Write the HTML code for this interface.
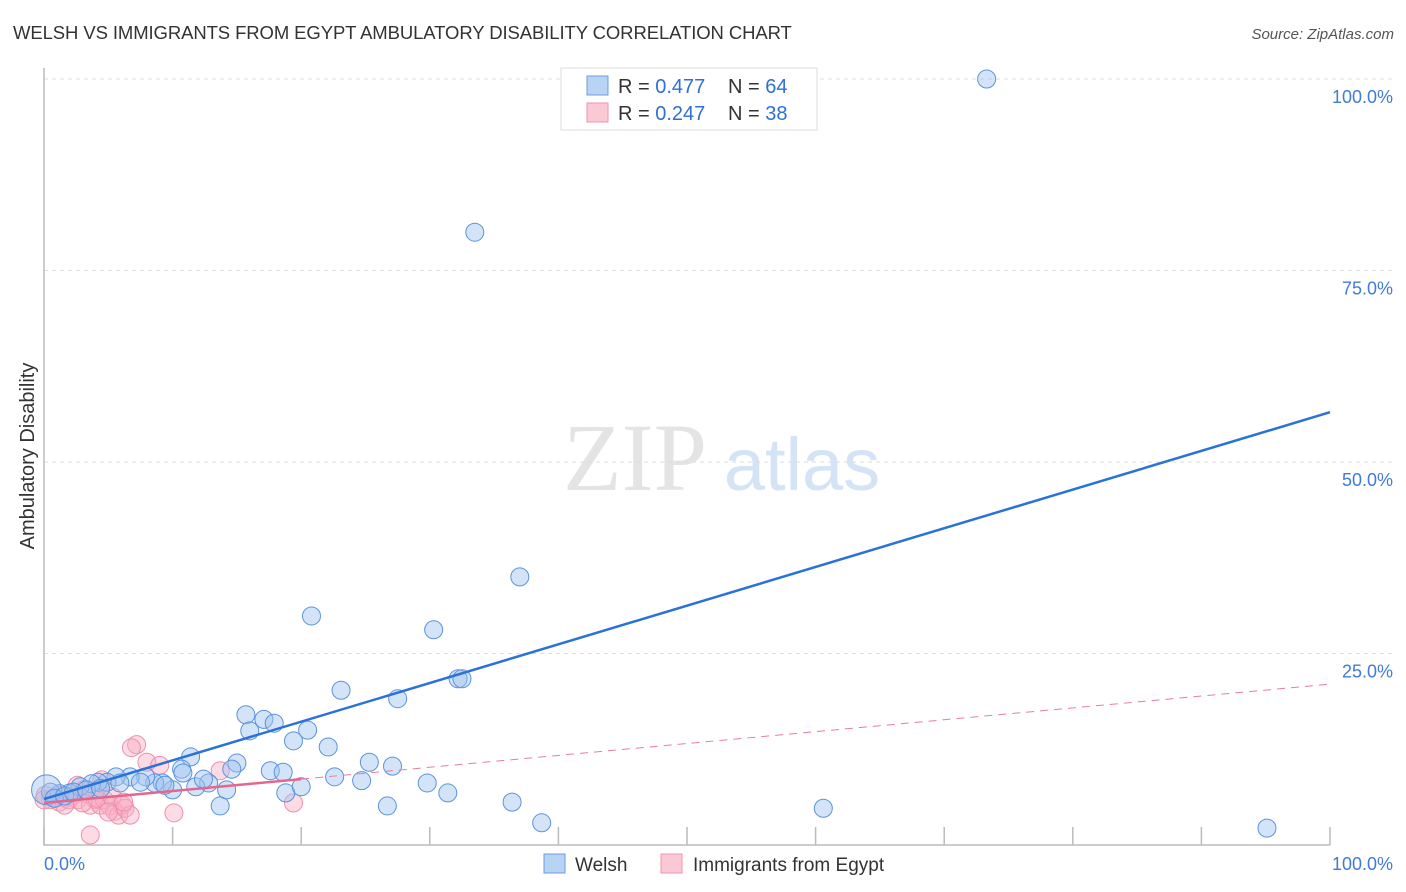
<!DOCTYPE html>
<html><head><meta charset="utf-8"><style>
body{margin:0;background:#fff;font-family:"Liberation Sans",sans-serif;}
svg{display:block}
</style></head><body>
<svg id="chart" width="1406" height="892" xmlns="http://www.w3.org/2000/svg">
<text x="13" y="39" font-size="18.5" fill="#333" letter-spacing="-0.1">WELSH VS IMMIGRANTS FROM EGYPT AMBULATORY DISABILITY CORRELATION CHART</text>
<text x="1394" y="39" font-size="15" fill="#555" font-style="italic" text-anchor="end">Source: ZipAtlas.com</text>
<text x="34" y="456" font-size="20" fill="#333" transform="rotate(-90 34 456)" text-anchor="middle">Ambulatory Disability</text>
<g>
<text x="635" y="490" font-size="96" fill="#e4e4e4" font-family="Liberation Serif,serif" text-anchor="middle">ZIP</text>
<text x="802" y="490" font-size="74" fill="#d4e3f6" text-anchor="middle">atlas</text>
</g>
<g id="grid"></g><g id="axes"></g><g id="trends"></g><g id="points"></g>
<g>
<rect x="561" y="68" width="256" height="62" fill="#fff" stroke="#ddd"/>
<rect x="587" y="76" width="21" height="19" fill="#b9d3f5" stroke="#6c9de0"/>
<rect x="587" y="103" width="21" height="19" fill="#fbc8d6" stroke="#ef93ae"/>
<text x="618" y="93" font-size="20" fill="#333">R = <tspan fill="#2f6fd6">0.477</tspan></text>
<text x="728" y="93" font-size="20" fill="#333">N = <tspan fill="#2f6fd6">64</tspan></text>
<text x="618" y="120" font-size="20" fill="#333">R = <tspan fill="#2f6fd6">0.247</tspan></text>
<text x="728" y="120" font-size="20" fill="#333">N = <tspan fill="#2f6fd6">38</tspan></text>
</g>
<g>
<rect x="544" y="854" width="21" height="19" fill="#b9d3f5" stroke="#6c9de0"/>
<text x="575" y="871" font-size="19" fill="#333">Welsh</text>
<rect x="661" y="854" width="21" height="19" fill="#fbc8d6" stroke="#ef93ae"/>
<text x="693" y="871" font-size="19" fill="#333">Immigrants from Egypt</text>
</g>
</svg>
<script>
const NS="http://www.w3.org/2000/svg";
const yTicks=[25,50,75,100];
const yTickLabels=["25.0%","50.0%","75.0%","100.0%"];
const xTickVals=[0,10,20,30,40,50,60,70,80,90,100];
const welshX=[73.3,54.2,33.5,37.0,20.8,30.3,23.1,32.2,32.5,27.5,15.7,17.1,17.9,16.0,20.5,19.4,22.1,11.4,15.0,10.7,14.6,25.3,27.1,17.6,18.6,22.6,24.7,29.8,31.4,36.4,38.7,60.6,95.1,26.7,13.7,18.8,20.0,12.8,14.2,11.8,10.8,10.0,9.2,8.6,7.9,6.7,5.6,4.9,4.2,3.7,2.8,2.0,1.2,0.5,0.2,0.8,1.6,2.3,3.3,5.9,7.5,12.4,9.4,4.4];
const welshY=[100,100,80.0,35.0,29.9,28.1,20.2,21.7,21.7,19.1,17.0,16.4,15.9,14.9,15.0,13.6,12.8,11.5,10.7,9.9,9.9,10.8,10.3,9.7,9.5,8.9,8.4,8.1,6.8,5.6,2.9,4.8,2.2,5.1,5.1,6.8,7.6,8.1,7.2,7.6,9.4,7.2,8.1,8.1,8.9,8.9,8.9,8.2,8.2,8.0,7.6,6.8,6.7,6.9,7.2,6.1,6.4,6.9,7.2,8.1,8.2,8.6,7.8,7.4];
const egyptX=[7.2,6.8,8.0,9.0,13.7,0.1,0.5,0.9,1.2,1.7,2.2,2.6,3.2,3.6,4.0,4.4,4.7,5.1,5.5,5.8,6.1,6.3,6.7,2.6,4.5,10.1,3.6,19.4,0,1.1,1.9,3.0,4.1,5.3,6.2,3.1,1.6,5.0];
const egyptY=[13.1,12.7,10.8,10.4,9.7,6.5,5.9,6.1,5.6,6.1,6.4,5.9,6.7,5.2,5.9,5.2,5.9,5.1,4.4,3.9,5.2,4.8,3.9,7.8,8.5,4.2,1.3,5.5,5.9,6.5,5.9,5.5,6.1,6.3,5.6,7.2,5.2,4.3];
const welshTrend=[6.0,56.5];
const egyptTrend=[5.5,21.0];
const egyptSolidEnd=20;
const X0=44,X1=1330,Y0=845,Y1=79;
const sx=v=>X0+(X1-X0)*v/100, sy=v=>Y0-(Y0-Y1)*v/100;
function mk(tag,attrs,parent){const e=document.createElementNS(NS,tag);for(const k in attrs)e.setAttribute(k,attrs[k]);parent.appendChild(e);return e;}
const grid=document.getElementById('grid'),axes=document.getElementById('axes'),tr=document.getElementById('trends'),pts=document.getElementById('points');
yTicks.forEach((v,i)=>{
 const l=mk('line',{x1:X0,x2:1394,y1:sy(v),y2:sy(v),stroke:'#ddd','stroke-dasharray':'4,4'},grid);
 
 
 const t=mk('text',{x:1393,y:sy(v)+24,'font-size':18,fill:'#3f7bd8','text-anchor':'end'},axes);
 t.textContent=yTickLabels[i];
 
 
});
const ax=mk('path',{d:`M${X0} 68 V${Y0} H${X1}`,stroke:'#bbb',fill:'none','stroke-width':1.5},axes);


xTickVals.forEach(v=>{
 const t=mk('line',{x1:sx(v),x2:sx(v),y1:Y0,y2:Y0-18,stroke:'#bbb','stroke-width':1.5},axes);
 
 
});
const xl0=mk('text',{x:44,y:870,'font-size':18,fill:'#3f7bd8'},axes);xl0.textContent='0.0%';


const xl1=mk('text',{x:1393,y:870,'font-size':18,fill:'#3f7bd8','text-anchor':'end'},axes);xl1.textContent='100.0%';


egyptX.forEach((x,i)=>{
 const c=mk('circle',{cx:sx(x),cy:sy(egyptY[i]),r:9,fill:'rgba(248,175,198,0.45)',stroke:'#ee8fac','stroke-width':1},pts);
 
 
});
welshX.forEach((x,i)=>{
 const c=mk('circle',{cx:sx(x),cy:sy(welshY[i]),r:i==54?15:9,fill:'rgba(160,196,240,0.45)',stroke:'#5b93dc','stroke-width':1},pts);
 
 
});
const wl=mk('line',{x1:sx(0),y1:sy(welshTrend[0]),x2:sx(100),y2:sy(welshTrend[1]),stroke:'#2a72d8','stroke-width':2.5},pts);


const ey=x=>egyptTrend[0]+(egyptTrend[1]-egyptTrend[0])*x/100;
const ed=mk('line',{x1:sx(egyptSolidEnd),y1:sy(ey(egyptSolidEnd)),x2:sx(100),y2:sy(ey(100)),stroke:'#ea7c9c','stroke-width':1,'stroke-dasharray':'8,6'},pts);


const es=mk('line',{x1:sx(0),y1:sy(ey(0)),x2:sx(egyptSolidEnd),y2:sy(ey(egyptSolidEnd)),stroke:'#e5668c','stroke-width':2.5},pts);


</script>
</body></html>
